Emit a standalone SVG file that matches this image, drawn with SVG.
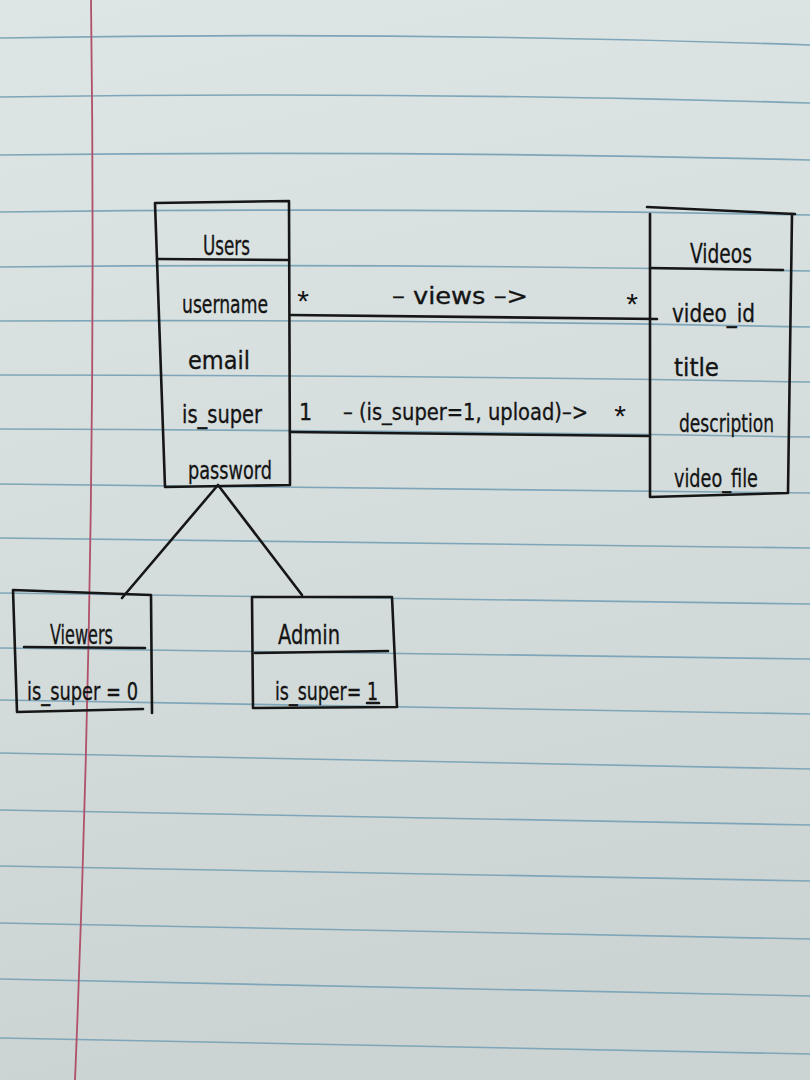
<svg xmlns="http://www.w3.org/2000/svg" width="810" height="1080" viewBox="0 0 810 1080">
  <defs>
    <linearGradient id="paper" x1="0" y1="0" x2="0.15" y2="1">
      <stop offset="0" stop-color="#dde5e5"/>
      <stop offset="0.5" stop-color="#d5dddd"/>
      <stop offset="1" stop-color="#cbd3d3"/>
    </linearGradient>
    <style>
      .rule { fill: none; stroke: #7fa6b8; stroke-width: 1.6; }
      .ink { fill: none; stroke: #161616; stroke-width: 2.6; stroke-linecap: round; stroke-linejoin: round; }
      .txt { font-family: "Liberation Sans Narrow", "DejaVu Sans Condensed", "Liberation Sans", sans-serif; font-size: 25px; fill: #141414; stroke: #141414; stroke-width: 0.3; }
      .title { font-size: 27px; }
      .lbl { font-size: 23px; }
      .mult { font-family: "Liberation Sans", sans-serif; font-size: 30px; fill: #141414; text-anchor: middle; }
    </style>
  </defs>

  <g id="paper-bg">
    <rect x="0" y="0" width="810" height="1080" fill="url(#paper)"/>
    <g id="rules">
      <path class="rule" d="M0,38 Q405,31 810,45"/>
      <path class="rule" d="M0,97 Q405,91 810,103"/>
      <path class="rule" d="M0,155 Q405,150 810,160"/>
      <path class="rule" d="M0,212 Q405,207 810,215"/>
      <path class="rule" d="M0,267 Q405,263 810,271"/>
      <path class="rule" d="M0,321 Q405,319 810,327"/>
      <path class="rule" d="M0,375 Q405,375 810,382"/>
      <path class="rule" d="M0,429 Q405,430.3 810,437"/>
      <path class="rule" d="M0,484 Q405,487.2 810,493"/>
      <path class="rule" d="M0,538 L810,548"/>
      <path class="rule" d="M0,593 L810,604"/>
      <path class="rule" d="M0,648 L810,659"/>
      <path class="rule" d="M0,700 L810,714"/>
      <path class="rule" d="M0,753 L810,769"/>
      <path class="rule" d="M0,810 L810,825"/>
      <path class="rule" d="M0,866 L810,881"/>
      <path class="rule" d="M0,923 L810,939"/>
      <path class="rule" d="M0,979 L810,996"/>
      <path class="rule" d="M0,1038 L810,1054"/>
    </g>
    <path id="margin" d="M91,0 Q98,520 75,1080" fill="none" stroke="#b0506a" stroke-width="1.8"/>
  </g>

  <g id="connectors">
    <path class="ink" d="M290,315 L657,319"/>
    <path class="ink" d="M290,432 L648,436"/>
    <path class="ink" d="M122,598 L218,485 L302,595"/>
    <text class="mult" x="303" y="311">*</text>
    <text class="txt lbl" x="392" y="304" textLength="136" lengthAdjust="spacingAndGlyphs">– views –&gt;</text>
    <text class="mult" x="632" y="314">*</text>
    <text class="txt lbl" x="299" y="420">1</text>
    <text class="txt lbl" x="343" y="420" textLength="245" lengthAdjust="spacingAndGlyphs">– (is_super=1, upload)–&gt;</text>
    <text class="mult" x="620" y="426">*</text>
  </g>

  <g id="users">
    <path class="ink" d="M155,203 L289,201 L290,485 L165,487 Z"/>
    <path class="ink" d="M157,259 L289,260"/>
    <text class="txt title" x="203" y="255" textLength="47" lengthAdjust="spacingAndGlyphs">Users</text>
    <text class="txt" x="182" y="313" textLength="86" lengthAdjust="spacingAndGlyphs">username</text>
    <text class="txt" x="188" y="369" textLength="62" lengthAdjust="spacingAndGlyphs">email</text>
    <text class="txt" x="182" y="423" textLength="80" lengthAdjust="spacingAndGlyphs">is_super</text>
    <text class="txt" x="188" y="479" textLength="84" lengthAdjust="spacingAndGlyphs">password</text>
  </g>

  <g id="videos">
    <path class="ink" d="M647,207 L795,214"/>
    <path class="ink" d="M650,214 L650,497 L788,493 L792,214"/>
    <path class="ink" d="M650,268 L783,270"/>
    <text class="txt title" x="690" y="263" textLength="62" lengthAdjust="spacingAndGlyphs">Videos</text>
    <text class="txt" x="672" y="322" textLength="83" lengthAdjust="spacingAndGlyphs">video_id</text>
    <text class="txt" x="674" y="376" textLength="45" lengthAdjust="spacingAndGlyphs">title</text>
    <text class="txt" x="679" y="432" textLength="95" lengthAdjust="spacingAndGlyphs">description</text>
    <text class="txt" x="674" y="487" textLength="84" lengthAdjust="spacingAndGlyphs">video_file</text>
  </g>

  <g id="viewers">
    <path class="ink" d="M13,590 L151,595 L152,713 M13,590 L17,712 L143,709"/>
    <path class="ink" d="M24,647 L145,648"/>
    <text class="txt title" x="50" y="644" textLength="63" lengthAdjust="spacingAndGlyphs">Viewers</text>
    <text class="txt" x="27" y="700" textLength="111" lengthAdjust="spacingAndGlyphs">is_super = 0</text>
  </g>

  <g id="admin">
    <path class="ink" d="M252,597 L392,597 L397,707 L253,708 Z"/>
    <path class="ink" d="M255,653 L388,651"/>
    <text class="txt title" x="278" y="644" textLength="62" lengthAdjust="spacingAndGlyphs">Admin</text>
    <text class="txt" x="275" y="700" textLength="103" lengthAdjust="spacingAndGlyphs">is_super= 1</text>
    <path class="ink" d="M367,703 L379,703" stroke-width="2"/>
  </g>
</svg>
